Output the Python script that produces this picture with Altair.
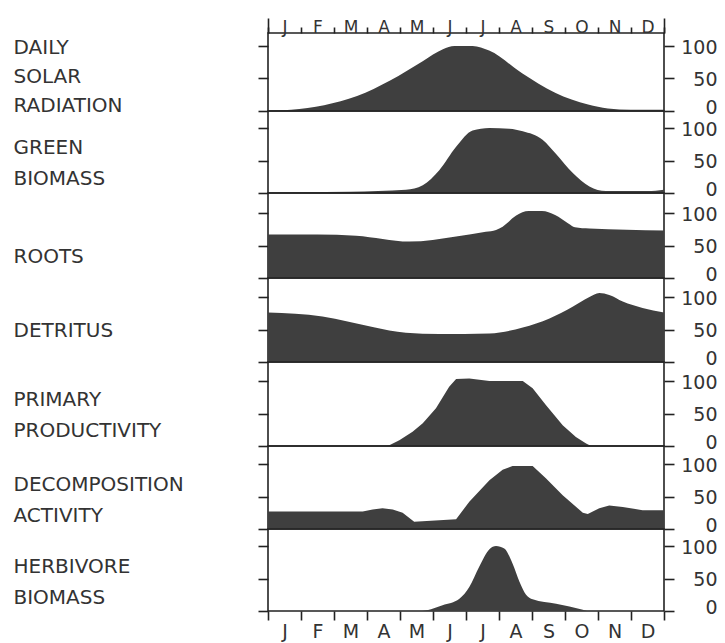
import json

import altair as alt
import pandas as pd

# Month letters along the time axis and month boundaries (0 = 1 January)
MONTHS = ["J", "F", "M", "A", "M", "J", "J", "A", "S", "O", "N", "D"]
MONTH_EDGES = list(range(13))
LEVEL_TICKS = [0, 50, 100]

# Each series: position in months and relative level (percent of its maximum)
SOLAR_X = [0, 0.7, 1.7, 2.7, 3.7, 4.7, 5.3, 5.65, 6.2, 6.7, 7.7, 8.7, 9.7, 10.3, 11, 12]
SOLAR_Y = [0, 2, 9, 23, 47, 77, 95, 100, 100, 93, 58, 28, 10, 4, 2, 2]

GREEN_X = [0, 1.0, 2.5, 4.18, 4.69, 5.19, 5.70, 6.20, 6.71, 7.31, 7.72, 8.32, 8.73, 9.23, 9.74, 10.24, 11.5, 12]
GREEN_Y = [0, 1, 2, 5, 12, 35, 71, 96, 100, 99, 95, 82, 60, 31, 10, 3, 3, 5]

ROOTS_X = [0, 1.5, 2.67, 4.28, 5.7, 6.6, 6.91, 7.11, 7.52, 7.9, 8.3, 8.7, 9.1, 9.3, 9.74, 12]
ROOTS_Y = [67, 67, 65, 56, 64, 71, 74, 79, 96, 103, 103, 97, 84, 78, 76, 73]

DETRITUS_X = [0, 1.65, 3.17, 4.18, 5.19, 6.71, 7.72, 8.53, 9.23, 9.74, 10.04, 10.34, 10.75, 11.35, 12]
DETRITUS_Y = [76, 70, 54, 45, 43, 44, 53, 67, 85, 100, 106, 103, 93, 83, 76]

PRODUCTIVITY_X = [0, 3.63, 3.98, 4.38, 4.69, 5.09, 5.49, 5.70, 6.10, 6.71, 7.72, 8.02, 8.42, 8.93, 9.33, 9.64, 9.79, 12]
PRODUCTIVITY_Y = [0, 0, 9, 22, 35, 58, 91, 103, 104, 100, 100, 89, 63, 32, 14, 4, 0, 0]

DECOMPOSITION_X = [0, 2.87, 3.17, 3.47, 3.78, 4.08, 4.43, 5.70, 6.10, 6.71, 7.11, 7.41, 8.02, 8.42, 8.93, 9.54,
                   9.69, 10.04, 10.34, 10.75, 11.35, 12]
DECOMPOSITION_Y = [27, 27, 30, 32, 30, 25, 11, 15, 42, 75, 91, 97, 97, 78, 52, 25, 23, 32, 36, 34, 29, 29]

HERBIVORE_X = [0, 4.59, 5.29, 5.8, 6.1, 6.4, 6.71, 6.91, 7.16, 7.41, 7.62, 7.82, 8.02, 8.73, 9.54, 9.7, 12]
HERBIVORE_Y = [0, 0, 9, 19, 37, 68, 95, 100, 96, 73, 45, 25, 18, 11, 2, 0, 0]

PANELS = [
    dict(label=["DAILY", "SOLAR", "RADIATION"], x=SOLAR_X, y=SOLAR_Y, curve="monotone",
         height=78, label_y=4, line=29),
    dict(label=["GREEN", "BIOMASS"], x=GREEN_X, y=GREEN_Y, curve="monotone",
         height=82, label_y=26, line=31),
    dict(label=["ROOTS"], x=ROOTS_X, y=ROOTS_Y, curve="monotone",
         height=85, label_y=53, line=31),
    dict(label=["DETRITUS"], x=DETRITUS_X, y=DETRITUS_Y, curve="monotone",
         height=84, label_y=42, line=31),
    dict(label=["PRIMARY", "PRODUCTIVITY"], x=PRODUCTIVITY_X, y=PRODUCTIVITY_Y, curve="linear",
         height=84, label_y=27, line=31),
    dict(label=["DECOMPOSITION", "ACTIVITY"], x=DECOMPOSITION_X, y=DECOMPOSITION_Y, curve="linear",
         height=83, label_y=28, line=31),
    dict(label=["HERBIVORE", "BIOMASS"], x=HERBIVORE_X, y=HERBIVORE_Y, curve="monotone",
         height=82, label_y=27, line=31),
]

INK = "#222222"
TEXT = "#333333"
FILL = "#3f3f3f"
FONT = "DejaVu Sans"
PX_PER_UNIT = 0.65   # vertical pixels per percent, same in every panel
WIDTH = 396

month_label = "(" + json.dumps(MONTHS + [""]) + ")[datum.value]"
half_month = WIDTH / 12 / 2

panels = []
for i, p in enumerate(PANELS):
    first = i == 0
    last = i == len(PANELS) - 1
    df = pd.DataFrame({"month": p["x"], "level": p["y"]})
    xscale = alt.Scale(domain=[0, 12], nice=False, zero=False)
    yscale = alt.Scale(domain=[0, p["height"] / PX_PER_UNIT], nice=False, zero=True)

    if first:
        x_axis = alt.Axis(orient="top", values=MONTH_EDGES, tickSize=6, labelExpr=month_label,
                          labelOffset=half_month, labelPadding=-5, labelBaseline="alphabetic",
                          labelFontSize=17, labelFlush=False, labelOverlap=False, title=None)
        x_axis_ends = alt.Axis(orient="top", values=[0, 12], tickSize=15, labels=False, title=None)
    elif last:
        x_axis = alt.Axis(orient="bottom", values=MONTH_EDGES, tickSize=9, labelExpr=month_label,
                          labelOffset=half_month, labelPadding=2, labelFontSize=19,
                          labelFlush=False, labelOverlap=False, title=None)
        x_axis_ends = None
    else:
        x_axis = None
        x_axis_ends = None

    left_axis = alt.Axis(orient="left", values=LEVEL_TICKS, tickSize=10, labels=False,
                         title=p["label"], titleAngle=0, titleAlign="left", titleBaseline="top",
                         titleX=-255, titleY=p["label_y"], titleFontSize=20,
                         titleLineHeight=p["line"])
    # the "0" label sits a little above its tick so it clears the next panel's "100"
    right_axis = alt.Axis(orient="right", values=LEVEL_TICKS, tickSize=10, labelAlign="right",
                          labelPadding=43, labelFontSize=19, labelBaseline="middle",
                          labelOffset={"condition": {"test": "datum.value == 0", "value": -4},
                                       "value": 1},
                          title=None)

    area = alt.Chart(df).mark_area(color=FILL, interpolate=p["curve"]).encode(
        x=alt.X("month:Q", scale=xscale, axis=x_axis),
        y=alt.Y("level:Q", scale=yscale, axis=left_axis),
    )
    outline = alt.Chart(df).mark_line(opacity=0, interpolate=p["curve"]).encode(
        x=alt.X("month:Q", scale=xscale, axis=x_axis_ends),
        y=alt.Y("level:Q", scale=yscale, axis=right_axis),
    )
    panels.append(
        alt.layer(area, outline)
        .resolve_axis(x="independent", y="independent")
        .properties(width=WIDTH, height=p["height"])
    )

chart = (
    alt.vconcat(*panels, spacing=0, bounds="flush")
    .properties(padding={"left": 12, "top": 16, "right": 3, "bottom": 2}, background="white")
    .configure_view(stroke=INK, strokeWidth=1.6)
    .configure_axis(domain=False, grid=False, tickColor=INK, tickWidth=1.6,
                    labelColor=TEXT, labelFont=FONT, titleFont=FONT,
                    titleFontWeight="normal", titleColor=TEXT)
)

chart.save("out.html", embed_options={"renderer": "svg", "actions": False})
